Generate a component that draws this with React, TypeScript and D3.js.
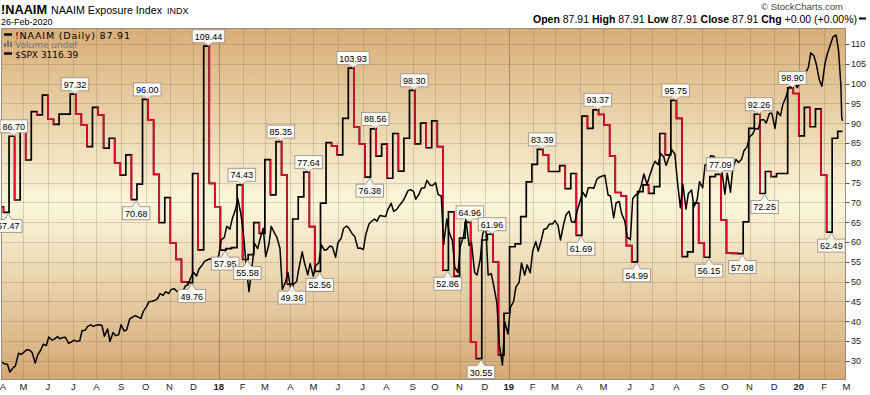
import React from 'react';
import * as d3 from 'd3';

const width = 870;
const height = 395;
const frame = { left: 1.5, right: 845.5, top: 28.5, bottom: 379.5 };
const font = 'Liberation Sans, Arial, sans-serif';
const red = '#e3072e';

const firstDay = '2017-04-01';
const lastDay = '2020-02-26';

// NAAIM exposure, one reading a week (shown from the Thursday), first one 30-Mar-2017
const naaimStart = '2017-03-30';
const naaim2017 = [68.9, 67.47, 86.7, 70.6, 90.5, 80.7, 92.9, 92.1, 97.1, 91.0, 89.7, 92.3, 92.3, 97.32, 92.3, 89.5, 84.1, 94.0, 92.1, 83.7, 86.2, 79.9, 76.9, 82.0, 70.68, 74.6, 96.0, 90.8, 77.1, 64.9, 71.2, 59.7, 55.6, 49.9, 49.76, 77.3, 58.0, 109.44, 74.8, 68.9];
const naaim2018 = [57.95, 58.3, 58.6, 74.43, 55.58, 56.8, 64.9, 62.2, 80.8, 71.9, 85.35, 76.9, 49.36, 65.8, 71.4, 77.64, 63.9, 52.56, 69.8, 85.1, 84.2, 82.0, 91.2, 103.93, 89.0, 84.7, 76.38, 88.56, 81.7, 84.7, 76.1, 87.4, 77.9, 86.2, 98.3, 84.8, 90.0, 83.8, 90.6, 84.1, 52.86, 67.6, 51.4, 61.0, 64.96, 34.8, 30.55, 60.5, 61.96, 55.0, 31.5, 42.0];
const naaim2019 = [58.8, 59.5, 66.4, 75.2, 79.6, 83.39, 82.0, 77.8, 77.8, 79.3, 73.5, 77.3, 61.69, 91.8, 88.7, 93.37, 92.2, 89.5, 81.7, 72.5, 71.6, 59.1, 54.99, 72.7, 74.4, 72.3, 74.0, 87.4, 82.0, 95.75, 91.2, 56.3, 57.5, 69.8, 59.8, 56.15, 76.5, 77.09, 65.5, 57.2, 57.1, 57.08, 65.1, 88.7, 92.26, 72.25, 77.8, 76.5, 77.3, 77.3, 98.9, 97.5];
const naaim2020 = [86.8, 94.0, 89.1, 93.6, 76.9, 62.49, 86.2, 87.91];
const naaim = [...naaim2017, ...naaim2018, ...naaim2019, ...naaim2020];

// weeks that carry a value flag (index into naaim)
const flagHigh = [2, 13, 26, 37, 43, 50, 55, 63, 67, 74, 84, 88, 97, 107, 121, 129, 136, 142];
const flagLow = [1, 24, 34, 40, 44, 52, 57, 66, 80, 86, 104, 114, 127, 133, 137, 149];

// $SPX closes, one row per week from Monday 27-Mar-2017 (tue, fri) - last week mon..wed
const spxStart = '2017-03-27';
const spx2017 = [
  [2358, 2363], [2360, 2355], [2353, 2329], [2342, 2348], [2388, 2384],
  [2391, 2399], [2397, 2390], [2357, 2382], [2398, 2416], [2412, 2439],
  [2429, 2432], [2440, 2433], [2437, 2438], [2419, 2423],
  [2429, 2425], [2427, 2459], [2460, 2472], [2477, 2472], [2476, 2477],
  [2475, 2441], [2464, 2425], [2453, 2443], [2446, 2477],
  [2457, 2461], [2496, 2500], [2506, 2502], [2497, 2519],
  [2534, 2549], [2551, 2553], [2559, 2575], [2569, 2581], [2575, 2588],
  [2590, 2582], [2579, 2579], [2599, 2602], [2627, 2642],
  [2630, 2652], [2664, 2676], [2681, 2684], [2680, 2674]
];
const spx2018 = [
  [2696, 2743], [2751, 2786], [2777, 2810], [2839, 2873], [2822, 2762],
  [2649, 2581], [2662, 2732], [2716, 2747], [2780, 2691],
  [2728, 2786], [2765, 2752], [2717, 2588], [2612, 2641],
  [2581, 2604], [2613, 2656], [2706, 2670], [2634, 2669], [2629, 2663],
  [2671, 2728], [2711, 2713], [2724, 2721], [2689, 2735],
  [2748, 2779], [2787, 2779], [2762, 2755], [2717, 2718],
  [2713, 2760], [2793, 2801], [2809, 2802], [2820, 2818], [2817, 2840],
  [2858, 2833], [2839, 2850], [2863, 2875], [2897, 2901],
  [2896, 2871], [2887, 2905], [2907, 2930], [2915, 2914],
  [2923, 2886], [2881, 2728], [2809, 2767], [2741, 2658], [2641, 2723],
  [2755, 2807], [2726, 2736], [2641, 2633], [2682, 2760],
  [2790, 2633], [2637, 2600], [2546, 2416], [2351, 2486], [2448, 2532]
];
const spx2019 = [
  [2550, 2596], [2610, 2671], [2633, 2665], [2640, 2707],
  [2738, 2708], [2744, 2776], [2780, 2793], [2793, 2804],
  [2789, 2743], [2792, 2822], [2833, 2800], [2798, 2834],
  [2867, 2893], [2878, 2907], [2907, 2905], [2934, 2940], [2944, 2946],
  [2884, 2881], [2812, 2859], [2864, 2826], [2802, 2752],
  [2744, 2873], [2885, 2887], [2917, 2950], [2917, 2942],
  [2973, 2990], [2979, 3014], [3004, 2977], [3005, 3026], [3013, 2932],
  [2844, 2919], [2840, 2889], [2900, 2847], [2869, 2926],
  [2906, 2979], [2979, 3007], [3006, 2992], [2966, 2962], [2887, 2952],
  [2893, 2970], [2996, 2986], [2996, 3023], [3036, 3067],
  [3075, 3093], [3091, 3120], [3120, 3110], [3140, 3141],
  [3093, 3146], [3133, 3169], [3192, 3221], [3224, 3240], [3221, 3235]
];
const spx2020 = [
  [3241, 3265], [3284, 3330], [3321, 3295], [3244, 3225],
  [3297, 3328], [3358, 3380], [3386, 3338], [3226, 3128, 3116.39]
];
const spxWeeks = [...spx2017, ...spx2018, ...spx2019, ...spx2020];

const yTicks = [30, 35, 40, 45, 50, 55, 60, 65, 70, 75, 80, 85, 90, 95, 100, 105, 110];
const monthLetters = ['J', 'F', 'M', 'A', 'M', 'J', 'J', 'A', 'S', 'O', 'N', 'D'];

const parse = d3.utcParse('%Y-%m-%d');

function flagWidth(s: string) {
  let w = 0;
  for (const c of s) w += c === '.' ? 2.5 : 5;
  return w + 5;
}

export default function App() {
  const start = parse(firstDay)!;
  const end = parse(lastDay)!;
  const x = d3.scaleUtc().domain([start, end]).range([-0.5, 842.5]);
  const y = d3.scaleLinear().domain([25.4, 114.04]).range([379, 28]);
  const ySpx = d3.scaleLinear().domain([2307, 3408]).range([379, 28]);

  const nStart = parse(naaimStart)!;
  const weeks = naaim.map((v, i) => ({ d: d3.utcDay.offset(nStart, 7 * i), v }));
  const n = weeks.length;
  const xw = (i: number) => (i < n ? x(weeks[i].d) : x(end));

  // black step line for the whole series
  let blackPath = `M${xw(0)},${y(weeks[0].v)}`;
  for (let i = 1; i < n; i++) {
    blackPath += `H${xw(i)}V${y(weeks[i].v)}`;
  }
  blackPath += `H${x(end)}`;

  // red overlay on falling stretches
  const redPaths: string[] = [];
  let cur = '';
  for (let i = 1; i < n; i++) {
    const down = weeks[i].v < weeks[i - 1].v;
    if (!down) { if (cur) { redPaths.push(cur); cur = ''; } continue; }
    if (!cur) cur = `M${xw(i)},${y(weeks[i - 1].v)}`;
    cur += `V${y(weeks[i].v)}`;
    const nextDown = i + 1 < n && weeks[i + 1].v < weeks[i].v;
    if (nextDown) cur += `H${xw(i + 1)}`;
    else { redPaths.push(cur); cur = ''; }
  }
  if (cur) redPaths.push(cur);

  const sStart = parse(spxStart)!;
  const spxPts = spxWeeks.flatMap((wk, w) => {
    const offs = wk.length === 3 ? [0, 1, 2] : [1, 4];
    return wk.map((v, j) => ({ d: d3.utcDay.offset(sStart, w * 7 + offs[j]), v }));
  });
  const spxLine = d3.line<{ d: Date; v: number }>().x(p => x(p.d)).y(p => ySpx(p.v));

  // month ticks on the first trading day of each month
  const months = d3.utcMonth.range(d3.utcMonth.floor(start), d3.utcMonth.offset(end, 1)).map(m => {
    let d = m;
    while (d.getUTCDay() === 0 || d.getUTCDay() === 6 || (d.getUTCMonth() === 0 && d.getUTCDate() === 1)) d = d3.utcDay.offset(d, 1);
    const mo = m.getUTCMonth();
    return { x: x(d), label: mo === 0 ? String(m.getUTCFullYear() % 100) : monthLetters[mo], year: mo === 0 };
  });

  const flags = [
    ...flagHigh.map(i => ({ i, high: true })),
    ...flagLow.map(i => ({ i, high: false }))
  ].map(({ i, high }) => {
    const v = weeks[i].v;
    const dEnd = d3.utcDay.offset(weeks[i].d, 6);
    const px = x(dEnd > end ? end : dEnd);
    const py = y(v);
    const label = v.toFixed(2);
    return { px, py, label, w: flagWidth(label), high };
  });

  const close = naaim[n - 1];
  const prevClose = naaim[n - 1];
  const chg = close - prevClose;
  const chgPct = (chg / prevClose) * 100;
  const ohlc: [string, string][] = [
    ['Open', close.toFixed(2)],
    ['High', close.toFixed(2)],
    ['Low', close.toFixed(2)],
    ['Close', close.toFixed(2)],
    ['Chg', `${chg >= 0 ? '+' : ''}${chg.toFixed(2)} (${chgPct >= 0 ? '+' : ''}${chgPct.toFixed(2)}%)`]
  ];
  const spxLast = spxPts[spxPts.length - 1].v;

  return (
    <svg width={width} height={height} style={{ display: 'block', background: '#fff' }} fontFamily={font}>
      <style>{`body{margin:0}`}</style>
      <defs>
        <linearGradient id="bg" x1="0" y1="0" x2="0" y2="1">
          <stop offset="0" stopColor="#d8ae77" />
          <stop offset="0.5" stopColor="#fbf6da" />
          <stop offset="1" stopColor="#d4a773" />
        </linearGradient>
        <clipPath id="plot">
          <rect x={frame.left} y={frame.top} width={frame.right - frame.left} height={frame.bottom - frame.top} />
        </clipPath>
      </defs>

      {/* header */}
      <text x={1} y={13.5} fontSize={13} fontWeight="bold" textLength={46} lengthAdjust="spacingAndGlyphs">!NAAIM</text>
      <text x={51} y={13.5} fontSize={11} textLength={111} lengthAdjust="spacingAndGlyphs">NAAIM Exposure Index</text>
      <text x={167} y={13.5} fontSize={9}>INDX</text>
      <text x={1} y={25} fontSize={9}>26-Feb-2020</text>
      <text x={843} y={9.5} fontSize={9.5} textAnchor="end" fill="#444">© StockCharts.com</text>
      <text x={857} y={22.5} fontSize={10.5} textAnchor="end">
        {ohlc.map(([k, v], i) => (
          <tspan key={k}>
            <tspan fontWeight="bold">{(i ? '  ' : '') + k}</tspan>
            <tspan>{' ' + v}</tspan>
          </tspan>
        ))}
      </text>
      <line x1={859} x2={866} y1={18.5} y2={18.5} stroke="#000" strokeWidth={2} />

      {/* plot background + grid */}
      <rect x={frame.left} y={frame.top} width={frame.right - frame.left} height={frame.bottom - frame.top} fill="url(#bg)" />
      <g clipPath="url(#plot)">
        {yTicks.map(t => (
          <line key={t} x1={frame.left} x2={frame.right} y1={Math.round(y(t)) + 0.5} y2={Math.round(y(t)) + 0.5} stroke="rgba(120,100,80,0.25)" />
        ))}
        {months.map((m, i) => (
          <line key={i} x1={Math.round(m.x) + 0.5} x2={Math.round(m.x) + 0.5} y1={frame.top} y2={frame.bottom}
            stroke={m.year ? 'rgba(100,80,60,0.45)' : 'rgba(120,100,80,0.25)'} />
        ))}
        <path d={blackPath} fill="none" stroke="#000" strokeWidth={1.7} />
        {redPaths.map((p, i) => (
          <path key={i} d={p} fill="none" stroke={red} strokeWidth={1.7} />
        ))}
        <path d={spxLine(spxPts) || ''} fill="none" stroke="#000" strokeWidth={1.5} strokeLinejoin="round" />
      </g>
      <rect x={frame.left} y={frame.top} width={frame.right - frame.left} height={frame.bottom - frame.top} fill="none" stroke="#9c8c7c" />

      {/* legend */}
      <line x1={4} x2={12} y1={34.5} y2={34.5} stroke="#000" strokeWidth={2.5} />
      <text x={15} y={38.5} fontSize={9.5} fontFamily="DejaVu Sans, Verdana, sans-serif" textLength={115} lengthAdjust="spacing">
        {`!NAAIM (Daily) ${close.toFixed(2)}`}
      </text>
      <g fill="#777">
        <rect x={4} y={43} width={2} height={4} />
        <rect x={7} y={40.5} width={2} height={6.5} />
        <rect x={10} y={42} width={2} height={5} />
      </g>
      <text x={15} y={47.5} fontSize={9} fill="#777" fontFamily="DejaVu Sans, Verdana, sans-serif">Volume undef</text>
      <line x1={4} x2={12} y1={53.5} y2={53.5} stroke="#000" strokeWidth={2.5} />
      <text x={15} y={57.5} fontSize={9} fontFamily="DejaVu Sans, Verdana, sans-serif">{`$SPX ${spxLast.toFixed(2)}`}</text>

      {/* value flags */}
      {flags.map((f, i) => {
        const bx = f.px - f.w / 2;
        const by = f.high ? f.py - 16.5 : f.py + 7;
        const tip = f.high
          ? `M${f.px - 4},${by + 12.5}L${f.px},${f.py - 0.5}L${f.px + 4},${by + 12.5}`
          : `M${f.px - 4},${by + 0.5}L${f.px},${f.py + 1}L${f.px + 4},${by + 0.5}`;
        return (
          <g key={i}>
            <path d={tip + 'Z'} fill="#fdfbf6" stroke="#a89a8c" />
            <rect x={bx} y={by} width={f.w} height={13} fill="#fdfbf6" stroke="#a89a8c" />
            <path d={f.high ? `M${f.px - 3.5},${by + 13}H${f.px + 3.5}` : `M${f.px - 3.5},${by}H${f.px + 3.5}`} stroke="#fdfbf6" strokeWidth={1.2} />
            <text x={f.px} y={by + 10} fontSize={9} textAnchor="middle">{f.label}</text>
          </g>
        );
      })}

      {/* right axis */}
      {yTicks.map(t => (
        <g key={t}>
          <line x1={frame.right} x2={frame.right + 4} y1={Math.round(y(t)) + 0.5} y2={Math.round(y(t)) + 0.5} stroke="#555" />
          <text x={851} y={y(t) + 3.5} fontSize={9} fill="#222">{t}</text>
        </g>
      ))}

      {/* bottom axis */}
      {months.map((m, i) => (
        <text key={i} x={Math.max(m.x, 3)} y={390} fontSize={9.5} textAnchor="middle" fontWeight={m.year ? 'bold' : 'normal'} fill="#222">
          {m.label}
        </text>
      ))}
    </svg>
  );
}
